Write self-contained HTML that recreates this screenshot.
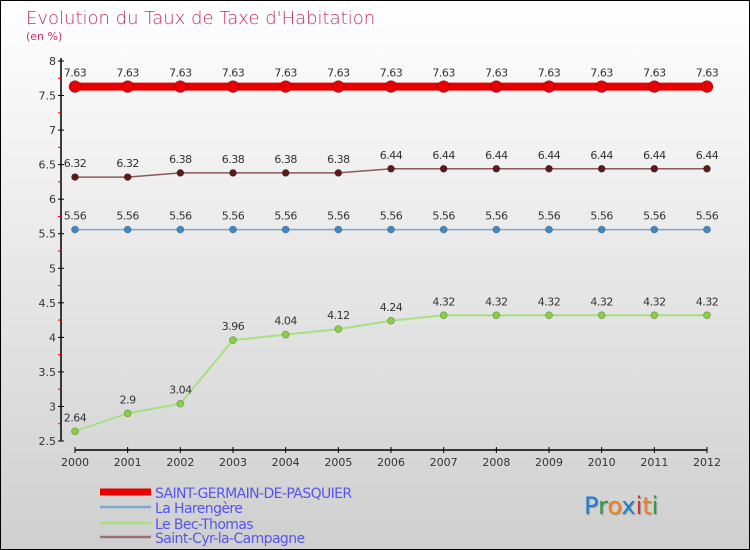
<!DOCTYPE html>
<html><head><meta charset="utf-8"><style>
body{margin:0;}
#c{width:750px;height:550px;position:relative;box-sizing:border-box;border:1px solid #000;background:linear-gradient(#ffffff,#cfcfcf);font-family:"DejaVu Sans","Liberation Sans",sans-serif;overflow:hidden}
</style></head><body>
<div id="c">
<svg id="s" width="750" height="550" style="position:absolute;left:-1px;top:-1px">
<text x="26" y="24" font-size="18" fill="#c0306a" font-family="DejaVu Sans, sans-serif" style="font-weight:200">Evolution du Taux de Taxe d'Habitation</text>
<text x="26" y="40" font-size="11" fill="#c0306a">(en %)</text>
<g id="g"></g>
</svg>
</div>
<script>
const years=["2000","2001","2002","2003","2004","2005","2006","2007","2008","2009","2010","2011","2012"];
const yTicks=[2.5,3,3.5,4,4.5,5,5.5,6,6.5,7,7.5,8];
const sgp=[7.63,7.63,7.63,7.63,7.63,7.63,7.63,7.63,7.63,7.63,7.63,7.63,7.63];
const har=[5.56,5.56,5.56,5.56,5.56,5.56,5.56,5.56,5.56,5.56,5.56,5.56,5.56];
const bec=[2.64,2.9,3.04,3.96,4.04,4.12,4.24,4.32,4.32,4.32,4.32,4.32,4.32];
const scc=[6.32,6.32,6.38,6.38,6.38,6.38,6.44,6.44,6.44,6.44,6.44,6.44,6.44];
const names=["SAINT-GERMAIN-DE-PASQUIER","La Harengère","Le Bec-Thomas","Saint-Cyr-la-Campagne"];
const NS="http://www.w3.org/2000/svg";const g=document.getElementById('g');
const X=i=>75+i*(707-75)/(years.length-1);
const Y=v=>441-(v-2.5)*(380/5.5);
function el(t,a,p){const e=document.createElementNS(NS,t);for(const k in a)e.setAttribute(k,a[k]);(p||g).appendChild(e);return e;}
let ax=el('line',{x1:61,y1:58,x2:61,y2:441,stroke:'#000','stroke-width':1.5});


let xa=el('line',{x1:75,y1:450,x2:707,y2:450,stroke:'#000','stroke-width':1.5});


yTicks.forEach(v=>{el('line',{x1:58,y1:Y(v),x2:64,y2:Y(v),stroke:'#000'});
if(v<8)el('line',{x1:58,y1:Y(v+0.25),x2:61,y2:Y(v+0.25),stroke:'#e00'});
const t=el('text',{x:56,y:Y(v)+4,'font-size':11,fill:'#333','text-anchor':'end'});t.textContent=String(v);

});
years.forEach((y,i)=>{el('line',{x1:X(i),y1:447,x2:X(i),y2:453,stroke:'#000'});
const t=el('text',{x:X(i),y:466,'font-size':11,fill:'#333','text-anchor':'middle'});t.textContent=y;

});
function series(d,col,lw,r,mcol,name){
const p=el('polyline',{points:d.map((v,i)=>X(i)+','+Y(v)).join(' '),fill:'none',stroke:col,'stroke-width':lw});


d.forEach((v,i)=>{const c=el('circle',{cx:X(i),cy:Y(v),r:r,fill:mcol,stroke:'rgba(0,0,0,0.3)','stroke-width':0.7});


const t=el('text',{x:X(i),y:Y(v)-10,'font-size':11,fill:'#333','text-anchor':'middle','letter-spacing':'-0.5'});t.textContent=String(v);

});}
series(sgp,'#e80000',8,6,'#e80000','saint-germain');
series(scc,'#8b5a5a',1.5,3.5,'#5a1a1a','saint-cyr');
series(har,'#7fa8cc',1.5,3.5,'#3f88c5','la-harengere');
series(bec,'#a8e080',2,3.5,'#88d040','le-bec-thomas');
const lc=['#e80000','#7fa8cc','#a8e080','#9a7070'],lw=[7,2.5,2.5,2.5],ly=[492,507,523,537];
names.forEach((n,i)=>{const l=el('line',{x1:100,y1:ly[i],x2:151,y2:ly[i],stroke:lc[i],'stroke-width':lw[i]});


const t=el('text',{x:155,y:ly[i]+6,'font-size':14,fill:'#5555ee','letter-spacing':'-0.6'});t.textContent=n;

});
const logo=el('text',{x:584,y:514,'font-size':24,style:'text-shadow:1px 1px 1px #999'});


[['P','#1a7fd0'],['r','#2aa040'],['o','#f08020'],['x','#1a7fd0'],['i','#e03030'],['t','#f08020'],['i','#2aa040']].forEach(([c,f])=>{const s=el('tspan',{fill:f},logo);s.textContent=c;});
</script>
</body></html>
